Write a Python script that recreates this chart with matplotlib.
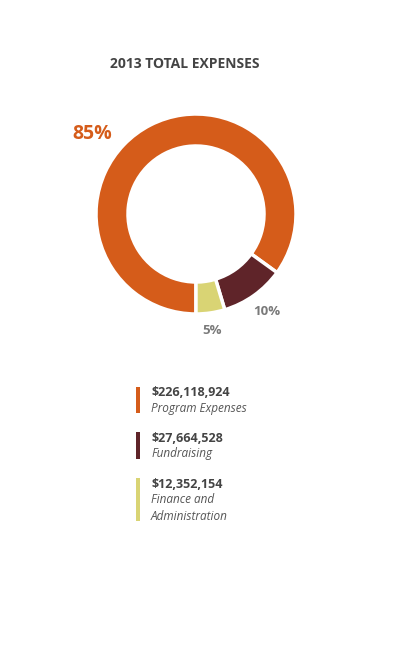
import matplotlib
matplotlib.use("Agg")
import matplotlib.pyplot as plt

# data
categories = ["Program Expenses", "Fundraising", "Finance and\nAdministration"]
amounts = [226118924, 27664528, 12352154]
pct_labels = ["85%", "10%", "5%"]
colors = ["#D55C1A", "#5F2429", "#D9D474"]

W, H = 397, 670
plt.rcParams['font.family'] = ['Open Sans', 'DejaVu Sans']

fig = plt.figure(figsize=(W / 100, H / 100), dpi=100)
fig.patch.set_facecolor("white")

def fx(px):
    return px / W

def fy(py):
    return 1 - py / H

fig.text(fx(185), fy(64), "2013 TOTAL EXPENSES", ha="center", va="center",
         fontsize=10, fontweight="bold", color="#444444")

# donut
cx, cy, r = 196, 214, 100
ax = fig.add_axes([fx(cx - r), fy(cy + r), 2 * r / W, 2 * r / H])
ax.pie(amounts, colors=colors, startangle=-90, counterclock=False,
       wedgeprops=dict(width=0.32, edgecolor="white", linewidth=2.5))
ax.set_xlim(-1, 1)
ax.set_ylim(-1, 1)
ax.axis("off")

fig.text(fx(92), fy(134), pct_labels[0], ha="center", va="center",
         fontsize=14, fontweight="bold", color=colors[0])
fig.text(fx(267), fy(312), pct_labels[1], ha="center", va="center",
         fontsize=9.5, fontweight="bold", color="#7a7a7a")
fig.text(fx(212), fy(331), pct_labels[2], ha="center", va="center",
         fontsize=9.5, fontweight="bold", color="#7a7a7a")

# legend
bar_spans = [(387, 413), (432, 459), (478, 521)]
for name, amt, col, (y0, y1) in zip(categories, amounts, colors, bar_spans):
    bar_ax = fig.add_axes([fx(136), fy(y1), 4 / W, (y1 - y0) / H])
    bar_ax.set_facecolor(col)
    bar_ax.set_xticks([])
    bar_ax.set_yticks([])
    for s in bar_ax.spines.values():
        s.set_visible(False)
    fig.text(fx(151), fy(y0 + 6), "${:,}".format(amt), ha="left", va="center",
             fontsize=9, fontweight="bold", color="#444444")
    fig.text(fx(151), fy(y0 + 15), name, ha="left", va="top",
             fontsize=8.5, style="italic", color="#555555", linespacing=1.45)

fig.savefig("out.png", dpi=100, facecolor="white")
